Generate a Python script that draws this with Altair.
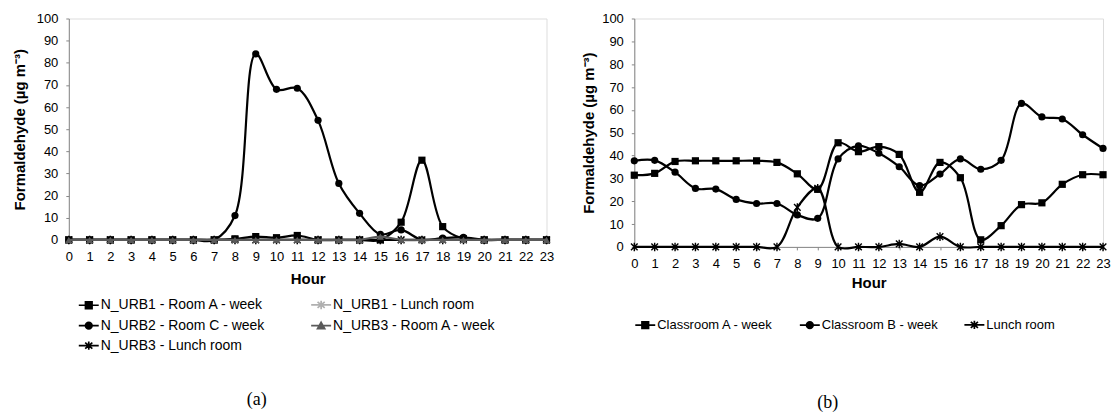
import altair as alt
import pandas as pd

hours = [0, 1, 2, 3, 4, 5, 6, 7, 8, 9, 10, 11, 12, 13, 14, 15, 16, 17, 18, 19, 20, 21, 22, 23]
y_ticks = [0, 10, 20, 30, 40, 50, 60, 70, 80, 90, 100]

# ---------- panel (a) ----------
a_names = ["N_URB1 - Room A - week", "N_URB1 - Lunch room", "N_URB2 - Room C - week",
           "N_URB3 - Room A - week", "N_URB3 - Lunch room"]
a_urb1_roomA = [0, 0, 0, 0, 0, 0, 0, 0, 0.5, 1.5, 1, 2, 0, 0, 0, 0, 8, 36, 6, 0.5, 0, 0, 0, 0]
a_urb1_lunch = [0, 0, 0, 0, 0, 0, 0, 0, 0, 0, 0, 0, 0, 0, 0, 0, 0, 0, 0, 0, 0, 0, 0, 0]
a_urb2_roomC = [0, 0, 0, 0, 0, 0, 0, 0, 11, 84, 68, 68.5, 54, 25.5, 12, 2.5, 4.5, 0, 0.8, 1.2, 0, 0, 0, 0]
a_urb3_roomA = [0, 0, 0, 0, 0, 0, 0, 0, 0, 0, 0, 0, 0, 0, 0, 1.5, 0, 0, 0, 0, 0, 0, 0, 0]
a_urb3_lunch = [0, 0, 0, 0, 0, 0, 0, 0, 0, 0, 0, 0, 0, 0, 0, 0, 0, 0, 0, 0, 0, 0, 0, 0]
a_values = [a_urb1_roomA, a_urb1_lunch, a_urb2_roomC, a_urb3_roomA, a_urb3_lunch]
a_colors = ["#000000", "#b0b0b0", "#000000", "#5a5a5a", "#000000"]

# ---------- panel (b) ----------
b_names = ["Classroom A - week", "Classroom B - week", "Lunch room"]
b_classA = [31.4, 32.2, 37.4, 37.7, 37.7, 37.7, 37.7, 37, 32, 25.2, 45.6, 41.7, 43.9, 40.5, 23.9, 37,
            30.3, 3.1, 9.3, 18.5, 19.3, 27.4, 31.6, 31.6]
b_classB = [37.7, 37.9, 32.7, 25.6, 25.3, 20.8, 19, 19, 14, 12.5, 38.5, 44.2, 41, 35.1, 26.8, 31.9,
            38.5, 34, 37.9, 62.8, 56.9, 56, 49.1, 43.1]
b_lunch = [0, 0, 0, 0, 0, 0, 0, 0, 17.3, 25.7, 0, 0, 0, 1.3, 0, 4.5, 0, 0, 0, 0, 0, 0, 0, 0]
b_values = [b_classA, b_classB, b_lunch]
b_colors = ["#000000", "#000000", "#000000"]

# marker shapes (plot) and legend symbols (line + marker)
ASTER = "M-0.7,-0.7L0.7,0.7M0.7,-0.7L-0.7,0.7M0,-0.9V0.9"
L_SQUARE = "M-1,0H1M-0.33,-0.33H0.33V0.33H-0.33Z"
L_CIRCLE = "M-1,0H1M0.33,0A0.33,0.33,0,1,1,-0.33,0A0.33,0.33,0,1,1,0.33,0Z"
L_TRI = "M-1,0H1M0,-0.34L0.36,0.3L-0.36,0.3Z"
L_ASTER = "M-1,0H1M-0.36,-0.3L0.36,0.3M0.36,-0.3L-0.36,0.3M0,-0.42V0.42"

a_marks = ["square", ASTER, "circle", "triangle-up", ASTER]
a_legend_paths = [L_SQUARE, L_ASTER, L_CIRCLE, L_TRI, L_ASTER]
a_draw_order = [1, 4, 2, 0, 3]
b_marks = ["square", "circle", ASTER]
b_legend_paths = [L_SQUARE, L_CIRCLE, L_ASTER]
b_draw_order = [2, 1, 0]

FONT = "Liberation Sans"
Y_TITLE = "Formaldehyde (µg m⁻³)"


def make_panel(names, values, colors, marks, legend_paths, order, field, width, height,
               y_title_pad, x_title_pad, legend, caption, caption_offset, caption_dx):
    rows = []
    for n, vals in zip(names, values):
        for h, v in zip(hours, vals):
            rows.append({"hour": h, "value": v, field: n})
    df = pd.DataFrame(rows)

    x = alt.X("hour:Q", scale=alt.Scale(domain=[0, 23], nice=False, zero=False),
              axis=alt.Axis(values=hours, title="Hour", format="d", grid=False,
                            labelOverlap=False, labelFlush=False, labelFont=FONT,
                            labelFontSize=13, labelColor="#000000", labelPadding=8,
                            tickSize=3, tickColor="#888888", domainColor="#888888",
                            titleFont=FONT, titleFontSize=15, titleFontWeight="bold",
                            titleColor="#000000", titlePadding=x_title_pad))
    y = alt.Y("value:Q", scale=alt.Scale(domain=[0, 100], nice=False),
              axis=alt.Axis(values=y_ticks, title=Y_TITLE, format="d", grid=False,
                            labelFont=FONT, labelFontSize=13, labelColor="#000000",
                            labelPadding=8, tickSize=3, tickColor="#888888",
                            domainColor="#888888", titleFont=FONT, titleFontSize=15,
                            titleFontWeight="bold", titleColor="#000000",
                            titlePadding=y_title_pad))

    layers = []
    for i in order:
        sub = df[df[field] == names[i]]
        base = alt.Chart(sub).encode(x=x, y=y)
        layers.append(base.mark_line(interpolate="catmull-rom", color=colors[i], strokeWidth=2.2))
        shp = marks[i]
        if shp == ASTER:
            layers.append(base.mark_point(shape=shp, filled=False, color=colors[i], size=90,
                                          strokeWidth=1.4, opacity=1))
        else:
            layers.append(base.mark_point(shape=shp, filled=True, color=colors[i], size=52,
                                          opacity=1))

    leg_layer = alt.Chart(df).mark_point(filled=True, opacity=0).encode(
        x=x, y=y,
        shape=alt.Shape(f"{field}:N", scale=alt.Scale(domain=names, range=legend_paths), legend=legend),
        fill=alt.Fill(f"{field}:N", scale=alt.Scale(domain=names, range=colors), legend=legend),
        stroke=alt.Stroke(f"{field}:N", scale=alt.Scale(domain=names, range=colors), legend=legend),
    )
    layers.append(leg_layer)

    return alt.layer(*layers).properties(
        width=width, height=height,
        title=alt.TitleParams(caption, orient="bottom", anchor="middle", frame="group",
                              offset=caption_offset, dx=caption_dx, font="Liberation Serif",
                              fontSize=18, fontWeight="normal", color="#000000"),
    )


legend_a = alt.Legend(title=None, orient="none", legendX=9, legendY=276, columns=2,
                      direction="horizontal", symbolSize=400, symbolStrokeWidth=1.7,
                      symbolOpacity=1, labelFont=FONT, labelFontSize=14, labelColor="#000000",
                      labelOffset=1, columnPadding=42, rowPadding=2, padding=0, labelLimit=0)
legend_b = alt.Legend(title=None, orient="none", legendX=0, legendY=296, columns=3,
                      direction="horizontal", symbolSize=400, symbolStrokeWidth=1.7,
                      symbolOpacity=1, labelFont=FONT, labelFontSize=13, labelColor="#000000",
                      labelOffset=1, columnPadding=22, rowPadding=2, padding=0, labelLimit=0)

panel_a = make_panel(a_names, a_values, a_colors, a_marks, a_legend_paths, a_draw_order,
                     "series_a", 479, 222, 9, 8, legend_a, "(a)", 38, -51)
panel_b = make_panel(b_names, b_values, b_colors, b_marks, b_legend_paths, b_draw_order,
                     "series_b", 470, 229, 5, 5, legend_b, "(b)", 62, -41)

chart = alt.hconcat(panel_a, panel_b, spacing=26).resolve_scale(
    x="independent", y="independent", shape="independent", fill="independent", stroke="independent"
).resolve_legend(shape="independent", fill="independent", stroke="independent").properties(
    padding={"left": 11, "top": 11, "right": 2, "bottom": 2}
).configure_view(stroke="#888888", strokeWidth=1).configure(background="white")

chart.save("out.html", embed_options={"renderer": "svg", "actions": False})
